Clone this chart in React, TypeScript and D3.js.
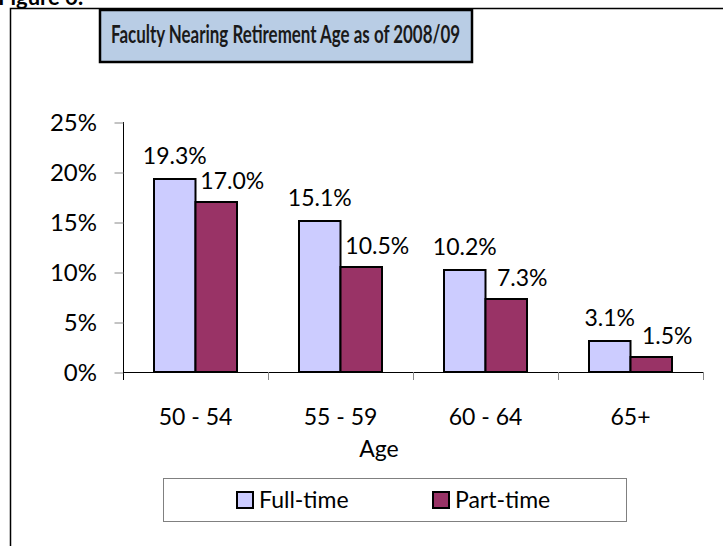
import React, { useEffect, useRef } from 'react';
import * as d3 from 'd3';

const categories = ['50 - 54', '55 - 59', '60 - 64', '65+'];
const seriesNames = ['Full-time', 'Part-time'];
const fullTime = [19.3, 15.1, 10.2, 3.1];
const partTime = [17.0, 10.5, 7.3, 1.5];
const yTicks = [0, 5, 10, 15, 20, 25];
const colors = ['#ccccff', '#993366'];

const FONT = 'Lato, "Liberation Sans", sans-serif';

const App = () => {
    const svgRef = useRef<SVGSVGElement>(null);

    useEffect(() => {
        const svg = d3.select(svgRef.current);
        svg.selectAll('*').remove();

        const width = 723;
        const height = 546;
        const margin = { top: 122, left: 123, right: 20, bottom: 174 };

        svg.attr('width', width).attr('height', height);

        // outer frame (only top and left edges are in view)
        svg.append('path')
            .attr('d', `M10.5,${height}V8.5H${width}`)
            .attr('fill', 'none')
            .attr('stroke', '#000')
            .attr('stroke-width', 1.5);

        svg.append('text')
            .attr('x', -2)
            .attr('y', 5)
            .attr('font-family', FONT)
            .attr('font-weight', 'bold')
            .attr('font-size', 22)
            .text('Figure 6:');

        // title box
        svg.append('rect')
            .attr('x', 100)
            .attr('y', 10)
            .attr('width', 372)
            .attr('height', 52)
            .attr('fill', '#b9cde5')
            .attr('stroke', '#000')
            .attr('stroke-width', 2.5);
        svg.append('text')
            .attr('x', 111)
            .attr('y', 43)
            .attr('font-family', FONT)
            .attr('font-weight', 'bold')
            .attr('font-size', 24)
            .attr('textLength', 349)
            .attr('lengthAdjust', 'spacingAndGlyphs')
            .attr('fill', '#1a1a1a')
            .text('Faculty Nearing Retirement Age as of 2008/09');

        const x0 = d3.scaleBand<string>()
            .domain(categories)
            .range([margin.left, width - margin.right]);
        const x1 = d3.scaleBand<string>()
            .domain(seriesNames)
            .range([0, 83]);
        const y = d3.scaleLinear()
            .domain([0, 25])
            .range([height - margin.bottom, margin.top]);

        const base = y(0);

        // y axis
        const yAxis = svg.append('g')
            .attr('transform', `translate(${margin.left},0)`)
            .call(d3.axisLeft(y).tickValues(yTicks).tickSize(9).tickFormat(d => `${d}%`));
        yAxis.select('.domain').attr('stroke', '#000').attr('d', `M0.5,${y(25)}V${base + 8}`);
        yAxis.selectAll('.tick line').attr('stroke', '#888').attr('transform', 'translate(0.5,0.5)');
        yAxis.selectAll('.tick text')
            .attr('font-family', FONT)
            .attr('font-size', 24)
            .attr('fill', '#000')
            .attr('x', -26)
            .attr('dy', '0.36em');

        // x axis
        const xAxisG = svg.append('g').attr('transform', `translate(0,${base})`);
        xAxisG.append('line')
            .attr('x1', margin.left)
            .attr('x2', width - margin.right)
            .attr('y1', 0.5)
            .attr('y2', 0.5)
            .attr('stroke', '#000');
        const bounds = categories.map(c => x0(c) as number).concat([width - margin.right]);
        xAxisG.selectAll('.xtick')
            .data(bounds.slice(1))
            .enter().append('line')
            .attr('x1', d => d + 0.5)
            .attr('x2', d => d + 0.5)
            .attr('y1', 0)
            .attr('y2', 8)
            .attr('stroke', '#888');
        xAxisG.selectAll('.xlabel')
            .data(categories)
            .enter().append('text')
            .attr('x', d => (x0(d) as number) + x0.bandwidth() / 2)
            .attr('y', 53)
            .attr('text-anchor', 'middle')
            .attr('font-family', FONT)
            .attr('font-size', 23)
            .text(d => d);

        svg.append('text')
            .attr('x', 379)
            .attr('y', 457)
            .attr('text-anchor', 'middle')
            .attr('font-family', FONT)
            .attr('font-size', 23)
            .text('Age');

        // bars
        const rows = categories.map((c, i) => ({ c, values: [fullTime[i], partTime[i]] }));
        const groups = svg.selectAll('.grp')
            .data(rows)
            .enter().append('g')
            .attr('transform', d => `translate(${(x0(d.c) as number) + (x0.bandwidth() - 83) / 2},0)`);

        groups.selectAll('rect')
            .data(d => d.values.map((v, k) => ({ s: seriesNames[k], v, k })))
            .enter().append('rect')
            .attr('x', d => x1(d.s) as number)
            .attr('y', d => y(d.v))
            .attr('width', x1.bandwidth())
            .attr('height', d => base - y(d.v))
            .attr('fill', d => colors[d.k])
            .attr('stroke', '#000')
            .attr('stroke-width', 2);

        groups.selectAll('.val')
            .data(d => d.values.map((v, k) => ({ s: seriesNames[k], v, k })))
            .enter().append('text')
            .attr('x', d => (x1(d.s) as number) + x1.bandwidth() / 2 + (d.k === 1 ? 16 : 0))
            .attr('y', d => y(d.v) - (d.k === 1 ? 13 : 15))
            .attr('text-anchor', 'middle')
            .attr('font-family', FONT)
            .attr('font-size', 23)
            .text(d => `${d.v.toFixed(1)}%`);

        // legend
        svg.append('rect')
            .attr('x', 163.5)
            .attr('y', 478.5)
            .attr('width', 463)
            .attr('height', 43)
            .attr('fill', '#fff')
            .attr('stroke', '#808080');
        const legendX = [237, 433];
        const legend = svg.selectAll('.leg')
            .data(seriesNames)
            .enter().append('g')
            .attr('transform', (d, i) => `translate(${legendX[i]},492)`);
        legend.append('rect')
            .attr('width', 16)
            .attr('height', 16)
            .attr('fill', (d, i) => colors[i])
            .attr('stroke', '#000')
            .attr('stroke-width', 2);
        legend.append('text')
            .attr('x', 22)
            .attr('y', 16)
            .attr('font-family', FONT)
            .attr('font-size', 23)
            .text(d => d);
    }, []);

    return (
        <svg ref={svgRef} style={{ position: 'absolute', left: 0, top: 0, background: '#fff' }}></svg>
    );
};

export default App;
